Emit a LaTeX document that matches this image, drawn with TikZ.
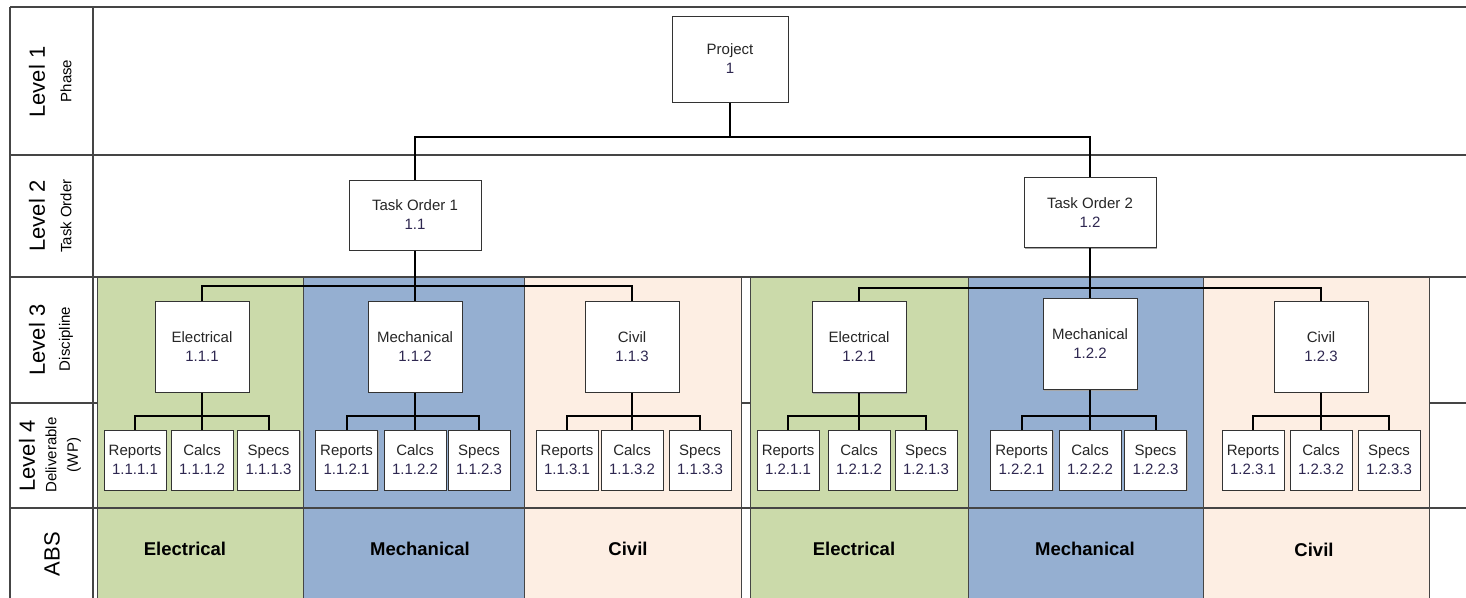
\documentclass[tikz,border=0pt]{standalone}
\usepackage{fontspec}
\setmainfont{Liberation Sans}
\usetikzlibrary{shadows}
\definecolor{cgreen}{HTML}{CBDAAA}
\definecolor{cblue}{HTML}{95AFD1}
\definecolor{cpeach}{HTML}{FDEEE3}
\definecolor{numcol}{HTML}{2E2750}
\definecolor{gridcol}{HTML}{454545}
\newcommand{\nm}[1]{\textcolor{numcol}{#1}}
\begin{document}
\begin{tikzpicture}[x=1pt,y=-1pt,
  grid/.style={draw=gridcol,line width=1.2pt},
  band/.style={draw=gridcol,line width=1pt},
  wbox/.style={draw=black!80,fill=white,line width=1pt,inner sep=0pt,align=center,
    font=\fontsize{15}{19}\selectfont,text=black!85,
    drop shadow={shadow xshift=1.2pt,shadow yshift=-1.2pt,fill=black!35,opacity=1}},
  lonebox/.style={wbox,minimum width=116pt,minimum height=86pt},
  ltwobox/.style={wbox,minimum width=132pt,minimum height=70pt},
  lthreebox/.style={wbox,minimum width=94pt,minimum height=91pt},
  lfourbox/.style={wbox,minimum width=62pt,minimum height=60pt},
  conn/.style={draw=black,line width=2pt},
  lvl/.style={rotate=90,font=\fontsize{22}{24}\selectfont,inner sep=0pt},
  sublbl/.style={rotate=90,font=\fontsize{15}{17}\selectfont,inner sep=0pt},
  abslbl/.style={font=\bfseries\fontsize{18.5}{20}\selectfont,inner sep=0pt}
]
\useasboundingbox (0,0) rectangle (1466,597);
\fill[white] (0,0) rectangle (1466,597);

% table grid
\foreach \yy in {7,155,277,403,508}
  \draw[grid] (10,\yy) -- (1466,\yy);
\draw[grid] (10,7) -- (10,600);
\draw[grid] (93,7) -- (93,600);

% coloured discipline bands
\draw[band,fill=cgreen] (97,277) rectangle (303,600);
\draw[band,fill=cblue]  (303,277) rectangle (524,600);
\draw[band,fill=cpeach] (524,277) rectangle (741,600);
\draw[band,fill=cgreen] (750,277) rectangle (968,600);
\draw[band,fill=cblue]  (968,277) rectangle (1203,600);
\draw[band,fill=cpeach] (1203,277) rectangle (1429,600);
\draw[grid] (10,508) -- (1466,508);
\draw[grid] (10,277) -- (1466,277);

% row labels
\node[lvl] (lv1) at (37,82) {Level 1};
\node[sublbl] (sb1) at (66,81) {Phase};
\node[lvl] (lv2) at (37,216) {Level 2};
\node[sublbl] (sb2) at (66,216) {Task Order};
\node[lvl] (lv3) at (37,340) {Level 3};
\node[sublbl] (sb3) at (66,339) {Discipline};
\node[lvl] (lv4) at (27,456) {Level 4};
\node[sublbl] (sb4) at (51,455) {Deliverable};
\node[sublbl] (sb4b) at (74,455) {(WP)};
\node[lvl] (lv5) at (52,554) {ABS};

% level 1 and 2
\node[lonebox] (P) at (730,59) {Project\\\nm{1}};
\node[ltwobox] (T1) at (415,215) {Task Order 1\\\nm{1.1}};
\node[ltwobox] (T2) at (1090,212.5) {Task Order 2\\\nm{1.2}};

% level 3
\node[lthreebox] (E1) at (202,346.5) {Electrical\\\nm{1.1.1}};
\node[lthreebox] (M1) at (415,346.5) {Mechanical\\\nm{1.1.2}};
\node[lthreebox] (C1) at (632,346.5) {Civil\\\nm{1.1.3}};
\node[lthreebox] (E2) at (859,347) {Electrical\\\nm{1.2.1}};
\node[lthreebox] (M2) at (1090,344) {Mechanical\\\nm{1.2.2}};
\node[lthreebox] (C2) at (1321,346.5) {Civil\\\nm{1.2.3}};

% level 4
\node[lfourbox] (E1r) at (135,460) {Reports\\\nm{1.1.1.1}};
\node[lfourbox] (E1c) at (202,460) {Calcs\\\nm{1.1.1.2}};
\node[lfourbox] (E1s) at (268.5,460) {Specs\\\nm{1.1.1.3}};
\node[lfourbox] (M1r) at (346.5,460) {Reports\\\nm{1.1.2.1}};
\node[lfourbox] (M1c) at (415,460) {Calcs\\\nm{1.1.2.2}};
\node[lfourbox] (M1s) at (479,460) {Specs\\\nm{1.1.2.3}};
\node[lfourbox] (C1r) at (567,460) {Reports\\\nm{1.1.3.1}};
\node[lfourbox] (C1c) at (632,460) {Calcs\\\nm{1.1.3.2}};
\node[lfourbox] (C1s) at (700,460) {Specs\\\nm{1.1.3.3}};
\node[lfourbox] (E2r) at (788,460) {Reports\\\nm{1.2.1.1}};
\node[lfourbox] (E2c) at (859,460) {Calcs\\\nm{1.2.1.2}};
\node[lfourbox] (E2s) at (926,460) {Specs\\\nm{1.2.1.3}};
\node[lfourbox] (M2r) at (1021.5,460) {Reports\\\nm{1.2.2.1}};
\node[lfourbox] (M2c) at (1090,460) {Calcs\\\nm{1.2.2.2}};
\node[lfourbox] (M2s) at (1155.5,460) {Specs\\\nm{1.2.2.3}};
\node[lfourbox] (C2r) at (1253,460) {Reports\\\nm{1.2.3.1}};
\node[lfourbox] (C2c) at (1321,460) {Calcs\\\nm{1.2.3.2}};
\node[lfourbox] (C2s) at (1389,460) {Specs\\\nm{1.2.3.3}};

% ABS labels
\node[abslbl] (a1) at (185,549) {Electrical};
\node[abslbl] (a2) at (420,549) {Mechanical};
\node[abslbl] (a3) at (628,549) {Civil};
\node[abslbl] (a4) at (854,549) {Electrical};
\node[abslbl] (a5) at (1085,549) {Mechanical};
\node[abslbl] (a6) at (1314,550) {Civil};

% connectors
\coordinate (pj) at (P.south |- 0,137);
\draw[conn] (P.south) -- (pj);
\draw[conn] (T1.north) |- (pj) -| (T2.north);

\coordinate (t1j) at (T1.south |- 0,286);
\draw[conn] (T1.south) -- (M1.north);
\draw[conn] (E1.north) |- (t1j) -| (C1.north);
\coordinate (t2j) at (T2.south |- 0,288);
\draw[conn] (T2.south) -- (M2.north);
\draw[conn] (E2.north) |- (t2j) -| (C2.north);

\foreach \g in {E1,M1,C1,E2,M2,C2}{
  \coordinate (\g j) at (\g.south |- 0,416);
  \draw[conn] (\g.south) -- (\g c.north);
  \draw[conn] (\g r.north) |- (\g j) -| (\g s.north);
}
\end{tikzpicture}
\end{document}
